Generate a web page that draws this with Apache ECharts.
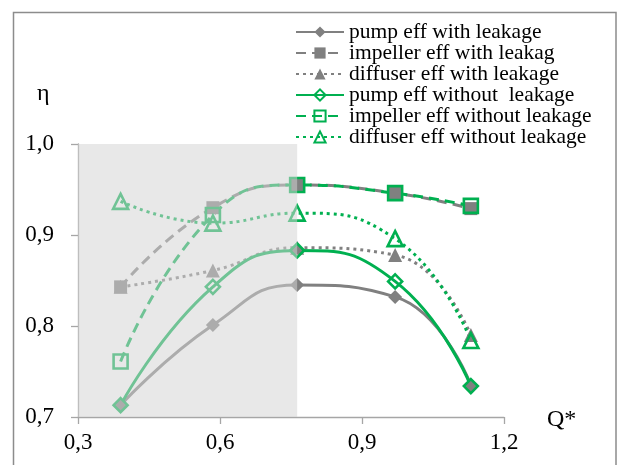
<!DOCTYPE html>
<html>
<head>
<meta charset="utf-8">
<script src="https://cdn.jsdelivr.net/npm/echarts@6/dist/echarts.min.js"></script>
<style>
html,body{margin:0;padding:0;background:#fff;}
#chart{width:619px;height:465px;}
</style>
</head>
<body>
<div id="chart"></div>
<script>
// ---- data ----
const qValues = [0.39, 0.585, 0.763, 0.97, 1.13];
const pumpWith = [0.713, 0.801, 0.845, 0.832, 0.735];
const impellerWith = [0.843, 0.930, 0.955, 0.946, 0.929];
const diffuserWith = [0.843, 0.861, 0.886, 0.878, 0.790];
const pumpWithout = [0.713, 0.843, 0.883, 0.849, 0.734];
const impellerWithout = [0.761, 0.922, 0.955, 0.946, 0.932];
const diffuserWithout = [0.937, 0.913, 0.924, 0.896, 0.784];
const seriesNames = [
  'pump eff with leakage',
  'impeller eff with leakag',
  'diffuser eff with leakage',
  'pump eff without  leakage',
  'impeller eff without leakage',
  'diffuser eff without leakage'
];
const shadedRangeX = [0.3, 0.763];
const shadedRangeY = [0.7, 1.0];
const xTicks = [0.3, 0.6, 0.9, 1.2];
const yTicks = [0.7, 0.8, 0.9, 1.0];

const GRAY = '#808080';
const GREEN = '#00b050';
const FONT = 'Liberation Serif';

function pairs(ys) { return qValues.map((x, i) => [x, ys[i]]); }
function fmt(v) { return v.toFixed(1).replace('.', ','); }

function mk(name, ys, color, filled, symbol, size, dash) {
  return {
    name: name,
    type: 'line',
    data: pairs(ys),
    smooth: 0.5,
    symbol: symbol,
    symbolSize: size,
    showSymbol: true,
    z: 2,
    lineStyle: { color: color, width: 3, type: dash, cap: 'butt' },
    itemStyle: filled
      ? { color: color, borderColor: color, borderWidth: 0 }
      : { color: 'rgba(0,0,0,0)', borderColor: color, borderWidth: 2.6 },
    emphasis: { disabled: true },
    animation: false
  };
}

const chart = echarts.init(document.getElementById('chart'), null, { renderer: 'canvas' });
const option = {
  animation: false,
  textStyle: { fontFamily: FONT },
  grid: { left: 78, right: 115, top: 144, bottom: 48, containLabel: false },
  xAxis: {
    type: 'value',
    min: xTicks[0],
    max: xTicks[xTicks.length - 1],
    interval: 0.3,
    axisLine: { show: true, lineStyle: { color: '#a6a6a6', width: 1.3 } },
    axisTick: { show: true, inside: false, length: 7, lineStyle: { color: '#a6a6a6', width: 1.3 } },
    splitLine: { show: false },
    axisLabel: { formatter: fmt, fontFamily: FONT, fontSize: 23, color: '#000', margin: 14 }
  },
  yAxis: {
    type: 'value',
    min: yTicks[0],
    max: yTicks[yTicks.length - 1],
    interval: 0.1,
    axisLine: { show: true, lineStyle: { color: '#a6a6a6', width: 1.3 } },
    axisTick: { show: true, inside: false, length: 7, lineStyle: { color: '#a6a6a6', width: 1.3 } },
    splitLine: { show: false },
    axisLabel: { formatter: fmt, fontFamily: FONT, fontSize: 23, color: '#000', margin: 24 }
  },
  legend: {
    data: seriesNames,
    orient: 'vertical',
    left: 295,
    top: 21,
    itemWidth: 48,
    itemHeight: 14,
    itemGap: -1,
    padding: 0,
    textStyle: { fontFamily: FONT, fontSize: 21.5, color: '#000', lineHeight: 20, padding: [0, 0, 0, 0] },
    selectedMode: false
  },
  graphic: [
    { type: 'rect', shape: { x: 13.5, y: 12.5, width: 602.5, height: 470 },
      style: { fill: 'none', stroke: '#8c8c8c', lineWidth: 1.5 }, silent: true, z: 0 },
    { type: 'text', left: 37, top: 82, style: { text: 'η', font: '24px "Liberation Serif"', fill: '#000' }, silent: true },
    { type: 'text', left: 547, top: 408, style: { text: 'Q*', font: '24px "Liberation Serif"', fill: '#000' }, silent: true }
  ],
  series: [
    mk(seriesNames[0], pumpWith, GRAY, true, 'diamond', 14, 'solid'),
    mk(seriesNames[1], impellerWith, GRAY, true, 'rect', 13, [10, 6]),
    mk(seriesNames[2], diffuserWith, GRAY, true, 'triangle', 14, [3, 4]),
    mk(seriesNames[3], pumpWithout, GREEN, false, 'diamond', 14, 'solid'),
    mk(seriesNames[4], impellerWithout, GREEN, false, 'rect', 14, [10, 6]),
    mk(seriesNames[5], diffuserWithout, GREEN, false, 'triangle', 15, [3, 4]),
    {
      name: 'shade',
      type: 'custom',
      z: 20,
      silent: true,
      data: [[shadedRangeX[0], shadedRangeX[1], shadedRangeY[0], shadedRangeY[1]]],
      renderItem: function (params, api) {
        const p0 = api.coord([api.value(0), api.value(3)]);
        const p1 = api.coord([api.value(1), api.value(2)]);
        return {
          type: 'rect',
          shape: { x: p0[0], y: p0[1], width: p1[0] - p0[0], height: p1[1] - p0[1] },
          style: { fill: 'rgba(212,212,212,0.53)' },
          z2: 100
        };
      }
    }
  ]
};
chart.setOption(option);
</script>
</body>
</html>
